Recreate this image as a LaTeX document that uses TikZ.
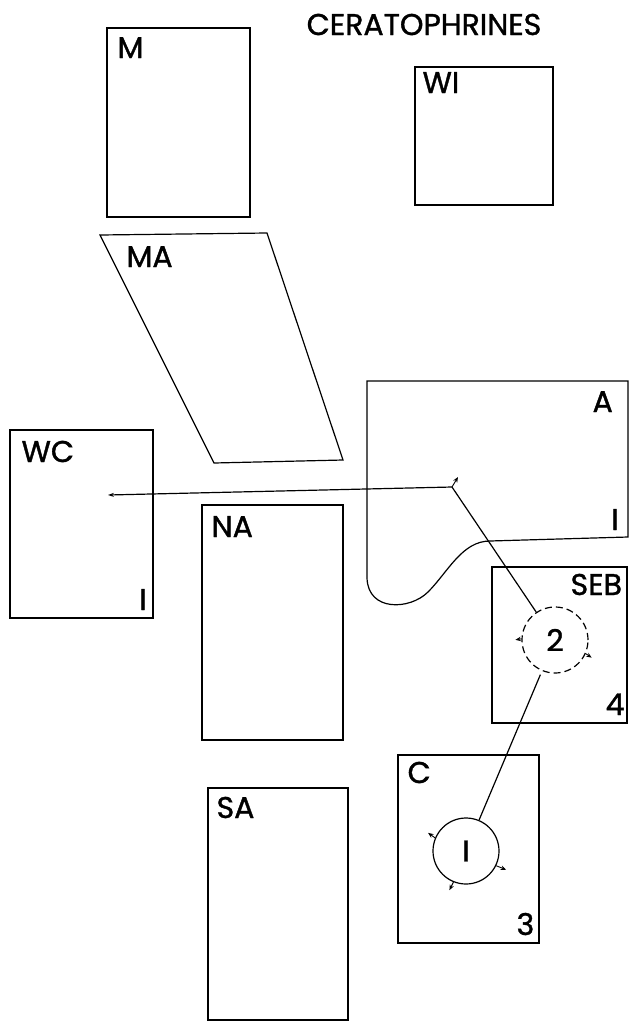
\documentclass[tikz,border=0pt]{standalone}
\usepackage{fontspec}
\setmainfont{Poppins}[FakeBold=1.2]
\usetikzlibrary{arrows.meta}
\begin{document}
\begin{tikzpicture}[x=1pt,y=-1pt,
  line width=1.2pt,
  region/.style={draw, rectangle, inner sep=0pt, outer sep=0pt, anchor=north west},
  lab/.style={inner sep=0pt, anchor=base west, font=\fontsize{30}{34}\selectfont},
  centre/.style={draw, circle, inner sep=0pt, minimum size=66pt, font=\fontsize{30}{34}\selectfont},
  tip/.style={-{Stealth[length=5.5pt,width=4.5pt]}, line width=0.9pt},
  dashedline/.style={dash pattern=on 7pt off 4pt}
]
\useasboundingbox (0,0) rectangle (631,1023);

% title
\node[inner sep=0pt, anchor=base, font=\fontsize{30}{34}\selectfont] (title) at (424,35) {CERATOPHRINES};

% rectangular regions
\node[region, minimum width=143pt, minimum height=189pt] (M) at (107,28) {};
\node[region, minimum width=138pt, minimum height=138pt] (WI) at (415,67) {};
\node[region, minimum width=143pt, minimum height=188pt] (WC) at (10,430) {};
\node[region, minimum width=141pt, minimum height=235pt] (NA) at (202,505) {};
\node[region, minimum width=140pt, minimum height=232pt] (SA) at (208,788) {};
\node[region, minimum width=135pt, minimum height=156pt] (SEB) at (492,567) {};
\node[region, minimum width=141pt, minimum height=188pt] (C) at (398,755) {};

% MA parallelogram
\draw (100,235) -- (267,233) -- (343,460) -- (214,463) -- cycle;

% A region with curved lower-left
\draw (367,381) -- (628,381) -- (628,537) -- (490,541)
      .. controls (462,541) and (448,572) .. (428,592)
      .. controls (410,610) and (368,612) .. (367,578) -- cycle;

% labels
\node[lab] (lM) at (117,58) {M};
\node[lab] (lWI) at (422,93) {WI};
\node[lab] (lMA) at (126,267) {MA};
\node[lab] (lWC) at (21,462) {WC};
\node[lab, anchor=base] (nWC) at (143,610) {I};
\node[lab] (lNA) at (211,537) {NA};
\node[lab] (lSA) at (216,818) {SA};
\node[lab] (lSEB) at (570,595) {SEB};
\node[lab] (nSEB) at (605,715) {4};
\node[lab] (lA) at (592,412) {A};
\node[lab, anchor=base] (nA) at (615,530) {I};
\node[lab] (lC) at (407,783) {C};
\node[lab] (nC) at (516,935) {3};

% centres
\node[centre, dashedline] (c2) at (555,640) {2};
\node[centre] (c1) at (466,851) {I};

% connectors
\coordinate (J) at (452,487);
\coordinate (W) at (108,495);
\draw[shorten >=4pt] (c1) -- (c2);
\draw (c2) -- (J);
\draw[-{Stealth[length=6pt,width=4pt]}] (J) -- (W);
\draw[tip] (J) -- ++(6,-10);

% dispersal arrows on centres
\draw[tip] (c1.157) -- ++(-7,-5);
\draw[tip] (c1.-26) -- ++(10,4);
\draw[tip] (c1.-112) -- ++(-4,8);
\draw[tip] (c2.178) -- ++(-6,1);
\draw[tip] (c2.-24) -- ++(6,4);
\end{tikzpicture}
\end{document}
